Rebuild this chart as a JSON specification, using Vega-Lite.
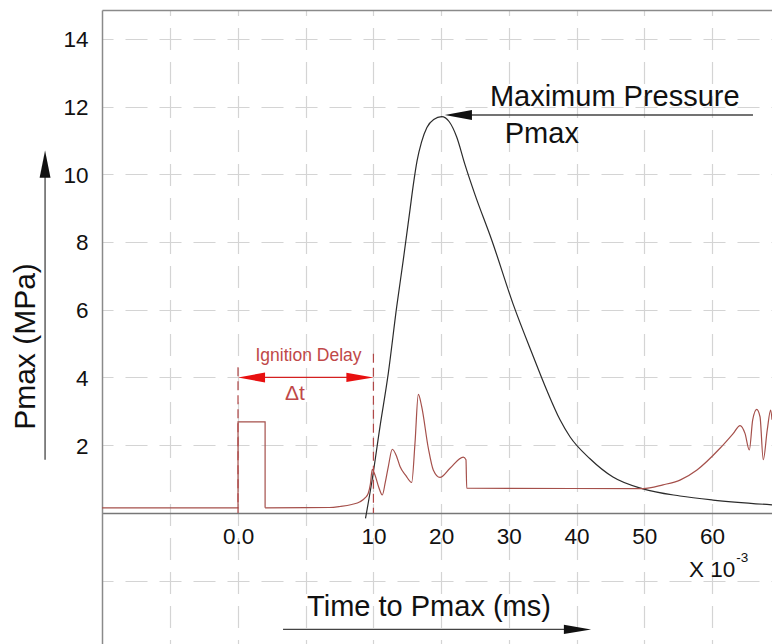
{
  "$schema": "https://vega.github.io/schema/vega-lite/v6.json",
  "width": 670,
  "height": 634,
  "autosize": {"type": "none"},
  "padding": {"left": 102, "top": 10, "right": 0, "bottom": 0},
  "config": {
    "view": {"stroke": null},
    "font": "Liberation Sans",
    "axis": {"labelFont": "Liberation Sans", "titleFont": "Liberation Sans"}
  },
  "datasets": {
    "pressure": [
      {"t": 8.83, "p": -0.16}, {"t": 9.79, "p": 0.95}, {"t": 10.97, "p": 2.55},
      {"t": 12.2, "p": 4.13}, {"t": 13.44, "p": 6.09}, {"t": 14.41, "p": 7.47},
      {"t": 15.4, "p": 8.95}, {"t": 15.9, "p": 9.7}, {"t": 16.45, "p": 10.4},
      {"t": 17.1, "p": 10.95}, {"t": 17.9, "p": 11.38}, {"t": 18.9, "p": 11.62},
      {"t": 20.08, "p": 11.7}, {"t": 21.2, "p": 11.55}, {"t": 22.3, "p": 11.1},
      {"t": 23.5, "p": 10.3}, {"t": 25.0, "p": 9.4}, {"t": 27.47, "p": 8.06},
      {"t": 30.66, "p": 6.15}, {"t": 33.61, "p": 4.62}, {"t": 35.59, "p": 3.63},
      {"t": 37.56, "p": 2.75}, {"t": 39.03, "p": 2.25}, {"t": 41.99, "p": 1.6},
      {"t": 45.38, "p": 1.06}, {"t": 49.81, "p": 0.71}, {"t": 55.28, "p": 0.5},
      {"t": 60.15, "p": 0.38}, {"t": 68.87, "p": 0.24}
    ],
    "signal": [
      {"i": 0, "t": -30.09, "v": 0.15}, {"i": 1, "t": -10, "v": 0.15}, {"i": 2, "t": -10, "v": 2.69},
      {"i": 3, "t": -6.0, "v": 2.69}, {"i": 4, "t": -6.0, "v": 0.15}, {"i": 5, "t": 3.5, "v": 0.16},
      {"i": 6, "t": 5.06, "v": 0.19}, {"i": 7, "t": 6.8, "v": 0.25}, {"i": 8, "t": 8.02, "v": 0.33},
      {"i": 9, "t": 8.8, "v": 0.45}, {"i": 10, "t": 9.24, "v": 0.58}, {"i": 11, "t": 9.55, "v": 0.85},
      {"i": 12, "t": 9.83, "v": 1.29}, {"i": 13, "t": 10.23, "v": 1.12}, {"i": 14, "t": 10.8, "v": 0.75},
      {"i": 15, "t": 11.31, "v": 0.53}, {"i": 16, "t": 11.75, "v": 0.9}, {"i": 17, "t": 12.2, "v": 1.37},
      {"i": 18, "t": 12.79, "v": 1.88}, {"i": 19, "t": 13.44, "v": 1.66}, {"i": 20, "t": 13.93, "v": 1.37},
      {"i": 21, "t": 14.8, "v": 1.1}, {"i": 22, "t": 15.65, "v": 0.9}, {"i": 23, "t": 16.14, "v": 2.06},
      {"i": 24, "t": 16.63, "v": 3.5}, {"i": 25, "t": 17.13, "v": 3.14}, {"i": 26, "t": 18.11, "v": 1.91},
      {"i": 27, "t": 18.84, "v": 1.27}, {"i": 28, "t": 19.83, "v": 1.05}, {"i": 29, "t": 21.31, "v": 1.32},
      {"i": 30, "t": 23.27, "v": 1.65}, {"i": 31, "t": 23.67, "v": 1.57}, {"i": 32, "t": 23.78, "v": 0.73},
      {"i": 33, "t": 49.81, "v": 0.72}, {"i": 34, "t": 52.77, "v": 0.83}, {"i": 35, "t": 55.28, "v": 0.97},
      {"i": 36, "t": 57.79, "v": 1.27}, {"i": 37, "t": 61.19, "v": 1.91}, {"i": 38, "t": 63.16, "v": 2.35},
      {"i": 39, "t": 64.15, "v": 2.58}, {"i": 40, "t": 64.88, "v": 2.35}, {"i": 41, "t": 65.52, "v": 1.86},
      {"i": 42, "t": 66.02, "v": 2.75}, {"i": 43, "t": 66.61, "v": 3.06}, {"i": 44, "t": 67.1, "v": 2.84},
      {"i": 45, "t": 67.58, "v": 1.57}, {"i": 46, "t": 68.17, "v": 2.45}, {"i": 47, "t": 68.67, "v": 3.04},
      {"i": 48, "t": 68.87, "v": 2.75}
    ],
    "blackLines": [
      {"t": 21.5, "t2": 66.06, "y": 11.75, "y2": 11.75},
      {"t": -38.5, "t2": -38.5, "y": 1.57, "y2": 10.3},
      {"t": -3.35, "t2": 40.14, "y": -3.44, "y2": -3.44}
    ],
    "blackHeads": [
      {"t": 22.54, "y": 11.75, "dir": "left"},
      {"t": -38.5, "y": 10.3, "dir": "up"},
      {"t": 40.14, "y": -3.44, "dir": "right"}
    ],
    "redHeads": [
      {"t": -8.0, "y": 4, "dir": "left"},
      {"t": 8.0, "y": 4, "dir": "right"}
    ],
    "redDashed": [
      {"t": -10, "y": 4.3, "y2": 0},
      {"t": 10, "y": 4.7, "y2": 0}
    ]
  },
  "resolve": {"axis": {"x": "independent"}},
  "layer": [
    {
      "data": {"name": "pressure"},
      "mark": {"type": "line", "color": "#2b2b2b", "strokeWidth": 1.2, "interpolate": "monotone"},
      "encoding": {
        "x": {
          "field": "t", "type": "quantitative",
          "scale": {"domain": [-30.09, 68.87], "nice": false, "zero": false},
          "axis": {
            "orient": "bottom", "values": [-20, -10, 0, 10, 20, 30, 40, 50, 60],
            "labels": false, "ticks": false, "domain": false, "title": null,
            "grid": true, "gridColor": "#d4d4d4", "gridWidth": 1.2, "gridDash": [22, 12], "gridDashOffset": 16.5
          }
        },
        "y": {
          "field": "p", "type": "quantitative",
          "scale": {"domain": [-3.87, 14.85], "nice": false, "zero": false},
          "axis": {
            "orient": "left", "values": [-2, 0, 2, 4, 6, 8, 10, 12, 14],
            "labelExpr": "datum.value > 0 ? datum.label : ''",
            "labelFontSize": 22.5, "labelColor": "#111111", "labelPadding": 14, "labelOffset": 1,
            "ticks": false,
            "domain": true, "domainColor": "#8a8a8a", "domainWidth": 1.5,
            "grid": true, "gridColor": "#d4d4d4", "gridWidth": 1.2, "gridDash": [22, 12], "gridDashOffset": 11,
            "title": "Pmax (MPa)", "titleFontSize": 30, "titleFontWeight": "normal", "titleColor": "#111111",
            "titleX": -68, "titleY": 336, "titleAlign": "center", "titleBaseline": "alphabetic", "titleAngle": -90
          }
        }
      }
    },
    {
      "data": {"name": "signal"},
      "transform": [{"filter": "datum.i <= 4"}],
      "mark": {"type": "line", "color": "#a5504b", "strokeWidth": 1.2},
      "encoding": {
        "x": {
          "field": "t", "type": "quantitative",
          "axis": {
            "orient": "bottom", "offset": -131,
            "values": [-10, 10, 20, 30, 40, 50, 60],
            "labelExpr": "datum.value == -10 ? '0.0' : datum.label",
            "labelFontSize": 22.5, "labelColor": "#111111", "labelPadding": 12,
            "ticks": false, "grid": false,
            "domain": true, "domainColor": "#777777", "domainWidth": 1.5,
            "title": "Time to Pmax (ms)", "titleFontSize": 29, "titleFontWeight": "normal", "titleColor": "#111111",
            "titleX": 326.5, "titleY": 102, "titleAlign": "center", "titleBaseline": "alphabetic"
          }
        },
        "y": {"field": "v", "type": "quantitative"},
        "order": {"field": "i", "type": "quantitative"}
      }
    },
    {
      "data": {"name": "signal"},
      "transform": [{"filter": "datum.i >= 4"}],
      "mark": {"type": "line", "color": "#a5504b", "strokeWidth": 1.2, "interpolate": "monotone"},
      "encoding": {
        "x": {"field": "t", "type": "quantitative", "axis": null},
        "y": {"field": "v", "type": "quantitative"},
        "order": {"field": "i", "type": "quantitative"}
      }
    },
    {
      "data": {"name": "blackLines"},
      "mark": {"type": "rule", "color": "#444444", "strokeWidth": 1.3},
      "encoding": {
        "x": {
          "field": "t", "type": "quantitative",
          "axis": {
            "orient": "top", "labels": false, "ticks": false, "grid": false, "title": null,
            "domain": true, "domainColor": "#8a8a8a", "domainWidth": 1.5
          }
        },
        "x2": {"field": "t2"},
        "y": {"field": "y", "type": "quantitative"},
        "y2": {"field": "y2"}
      }
    },
    {
      "data": {"name": "redDashed"},
      "mark": {"type": "rule", "color": "#b04848", "strokeWidth": 1.2, "strokeDash": [9, 5]},
      "encoding": {
        "x": {"field": "t", "type": "quantitative", "axis": null},
        "y": {"field": "y", "type": "quantitative"},
        "y2": {"field": "y2"}
      }
    },
    {
      "data": {"values": [{"t": -8.0, "t2": 8.0, "y": 4}]},
      "mark": {"type": "rule", "color": "#d42020", "strokeWidth": 1.3},
      "encoding": {
        "x": {"field": "t", "type": "quantitative", "axis": null},
        "x2": {"field": "t2"},
        "y": {"field": "y", "type": "quantitative"}
      }
    },
    {
      "data": {"name": "blackHeads"},
      "mark": {"type": "point", "filled": true, "opacity": 1, "size": 740, "color": "#111111", "strokeWidth": 0},
      "encoding": {
        "x": {"field": "t", "type": "quantitative", "axis": null},
        "y": {"field": "y", "type": "quantitative"},
        "shape": {
          "field": "dir", "type": "nominal", "legend": null,
          "scale": {
            "domain": ["left", "right", "up"],
            "range": ["M -1 0 L 1 -0.37 L 1 0.37 Z", "M 1 0 L -1 -0.34 L -1 0.34 Z", "M 0 -1 L 0.4 1 L -0.4 1 Z"]
          }
        }
      }
    },
    {
      "data": {"name": "redHeads"},
      "mark": {"type": "point", "filled": true, "opacity": 1, "size": 729, "color": "#e81010", "strokeWidth": 0},
      "encoding": {
        "x": {"field": "t", "type": "quantitative", "axis": null},
        "y": {"field": "y", "type": "quantitative"},
        "shape": {
          "field": "dir", "type": "nominal", "legend": null,
          "scale": {
            "domain": ["left", "right"],
            "range": ["M -1 0 L 1 -0.44 L 1 0.44 Z", "M 1 0 L -1 -0.44 L -1 0.44 Z"]
          }
        }
      }
    },
    {
      "data": {"values": [{"t": 27.2, "y": 12.02, "label": "Maximum Pressure"}, {"t": 29.4, "y": 10.93, "label": "Pmax"}]},
      "mark": {"type": "text", "align": "left", "baseline": "alphabetic", "fontSize": 29, "color": "#111111"},
      "encoding": {
        "x": {"field": "t", "type": "quantitative", "axis": null},
        "y": {"field": "y", "type": "quantitative"},
        "text": {"field": "label"}
      }
    },
    {
      "data": {"values": [{"t": 0.41, "y": 4.49, "label": "Ignition Delay"}]},
      "mark": {"type": "text", "align": "center", "baseline": "alphabetic", "fontSize": 17.5, "color": "#c04848"},
      "encoding": {
        "x": {"field": "t", "type": "quantitative", "axis": null},
        "y": {"field": "y", "type": "quantitative"},
        "text": {"field": "label"}
      }
    },
    {
      "data": {"values": [{"t": -1.58, "y": 3.34, "label": "Δt"}]},
      "mark": {"type": "text", "align": "center", "baseline": "alphabetic", "fontSize": 21, "color": "#c04848"},
      "encoding": {
        "x": {"field": "t", "type": "quantitative", "axis": null},
        "y": {"field": "y", "type": "quantitative"},
        "text": {"field": "label"}
      }
    },
    {
      "data": {"values": [{"t": 56.6, "y": -1.88, "label": "X 10"}]},
      "mark": {"type": "text", "align": "left", "baseline": "alphabetic", "fontSize": 22.5, "color": "#111111"},
      "encoding": {
        "x": {"field": "t", "type": "quantitative", "axis": null},
        "y": {"field": "y", "type": "quantitative"},
        "text": {"field": "label"}
      }
    },
    {
      "data": {"values": [{"t": 63.6, "y": -1.45, "label": "-3"}]},
      "mark": {"type": "text", "align": "left", "baseline": "alphabetic", "fontSize": 13.5, "color": "#111111"},
      "encoding": {
        "x": {"field": "t", "type": "quantitative", "axis": null},
        "y": {"field": "y", "type": "quantitative"},
        "text": {"field": "label"}
      }
    }
  ]
}
